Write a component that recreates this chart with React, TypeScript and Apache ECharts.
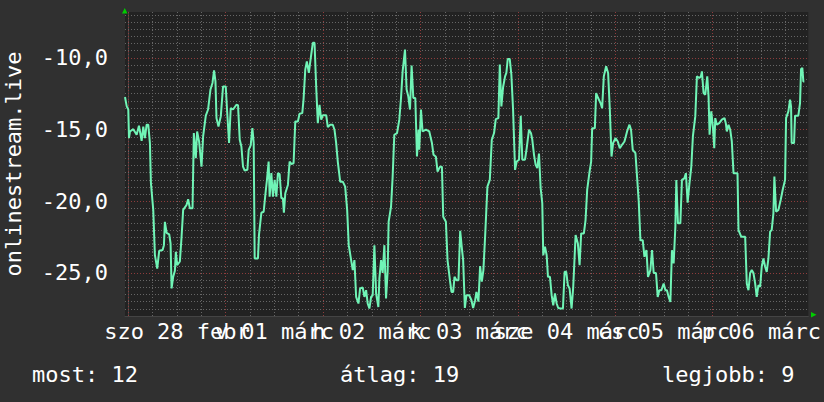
import React, { useEffect, useRef } from "react";
import * as echarts from "echarts";

// hours since szo 28 febr 00:00
const hours = [
  -0.81, -0.39, 0, 0.17, 0.42, 1.23, 2.06, 2.63, 3.29, 3.69, 4.1, 4.52, 4.92, 5.33, 5.58, 6.15, 6.56, 7.13, 7.62, 8.46,
  8.78, 9.02, 9.44, 10.08, 10.42, 10.67, 11.06, 11.48, 11.72, 12.04, 12.71, 13.13, 13.52, 14.35, 14.75, 15.17, 15.83, 16.15, 16.64, 16.96,
  17.45, 18.04, 18.44, 19.1, 19.66, 20.25, 20.75, 21.14, 21.48, 21.73, 22.22, 22.79, 23.35, 24.01, 24.33, 24.83, 25.24, 25.81, 26.64, 27.04,
  27.46, 27.87, 28.27, 28.69, 29.35, 29.67, 30.16, 30.58, 30.9, 31.14, 31.95, 32.2, 32.79, 33.36, 33.77, 34.17, 34.58, 34.83, 35.25, 35.64,
  36.06, 36.48, 36.87, 37.29, 37.71, 38.1, 38.34, 38.69, 39.33, 39.75, 40.16, 40.73, 41.15, 41.79, 42.2, 42.87, 43.19, 43.61, 44.0, 44.49,
  44.91, 45.47, 45.89, 46.31, 46.7, 47.12, 47.54, 47.93, 48.77, 49.16, 49.75, 50.39, 50.81, 51.22, 51.62, 52.21, 52.85, 53.44, 53.93, 54.32,
  54.91, 55.31, 55.72, 56.14, 56.71, 57.12, 57.76, 58.18, 58.6, 58.99, 59.41, 59.83, 60.22, 60.64, 61.06, 61.62, 61.87, 62.29, 62.68, 63.1,
  63.51, 63.91, 64.15, 64.74, 65.14, 65.55, 66.22, 66.78, 67.2, 67.6, 68.18, 68.58, 69.0, 69.41, 69.81, 70.23, 70.72, 71.13, 71.53, 71.7,
  72.12, 72.51, 73.35, 74.16, 74.82, 75.21, 75.8, 76.2, 76.79, 77.28, 77.6, 78.26, 78.66, 79.25, 79.64, 80.06, 80.38, 80.87, 81.36, 81.78,
  82.2, 82.51, 82.93, 83.33, 83.99, 84.56, 84.97, 85.47, 85.78, 86.28, 86.69, 87.11, 87.5, 87.92, 88.49, 89.08, 89.57, 90.13, 90.55, 91.19,
  91.54, 91.93, 92.35, 92.84, 93.16, 93.5, 93.99, 94.39, 94.81, 95.3, 95.71, 96.28, 96.7, 97.09, 97.75, 98.17, 98.74, 99.23, 99.55, 99.97,
  100.38, 100.78, 101.2, 101.61, 102.01, 102.25, 102.67, 103.09, 103.41, 103.9, 104.32, 104.71, 105.13, 105.55, 105.94, 106.53, 107.1, 107.51, 107.91, 108.32,
  108.74, 109.23, 109.63, 110.22, 110.78, 111.2, 111.59, 112.26, 112.67, 113.07, 113.66, 114.05, 114.3, 114.96, 115.28, 115.77, 116.36, 116.76, 117.17, 117.74,
  118.23, 118.65, 119.07, 119.46, 120.05, 120.61, 121.11, 121.67, 122.26, 122.9, 123.49, 123.88, 124.3, 124.96, 125.36, 125.78, 126.19, 126.76, 127.18, 127.67,
  128.06, 128.65, 129.05, 129.46, 130.03, 130.45, 130.86, 131.36, 131.92, 132.34, 132.73, 133.15, 133.57, 133.96, 134.38, 134.8, 135.04, 135.44, 136.03, 136.42,
  137.01, 137.4, 137.82, 138.24, 138.73, 139.12, 139.71, 140.11, 140.7, 141.09, 141.34, 141.75, 142.17, 142.66, 142.98, 143.23, 143.65, 144.04, 144.38, 144.63,
  145.02, 145.61, 146.25, 146.91, 147.23, 147.48, 147.9, 148.32, 148.71, 149.13, 149.69, 150.11, 150.36, 151.02, 151.59, 152.0, 152.4, 152.81, 153.23, 153.63,
  154.04, 154.46, 154.85, 155.27, 155.69, 156.08, 156.5, 156.92, 157.31, 157.73, 158.15, 158.54, 158.96, 159.2, 159.62, 160.19, 160.75, 161.24, 161.83, 162.08,
  162.65, 163.06, 163.31, 163.46, 164.05, 164.29, 165.1, 165.52, 165.77, 166.09, 166.33, 166.58,
];

const values = [
  -12.73, -13.38, -13.6, -15.6, -15.13, -14.97, -15.36, -14.73, -15.78, -14.8, -15.6, -14.66, -14.66, -15.94, -18.74, -20.6, -23.76, -24.69, -23.45, -23.4,
  -23.06, -21.43, -22.2, -22.3, -22.94, -26.08, -25.27, -24.85, -23.52, -24.45, -24.2, -22.47, -20.6, -20.26, -19.86, -20.49, -20.49, -15.24, -16.99, -15.13,
  -15.83, -17.58, -15.48, -14.03, -13.6, -12.2, -11.75, -10.87, -11.64, -14.2, -14.78, -14.08, -11.99, -11.99, -13.6, -15.94, -13.5, -13.6, -13.27, -13.3,
  -15.71, -16.18, -17.58, -17.86, -17.8, -16.41, -16.1, -14.9, -15.94, -23.99, -23.99, -22.36, -20.8, -20.73, -19.56, -18.51, -17.23, -19.68, -18.04, -19.68,
  -18.51, -19.68, -18.04, -18.1, -19.79, -19.79, -20.8, -19.44, -18.86, -17.23, -17.4, -17.35, -14.43, -14.43, -13.9, -13.85, -12.87, -10.82, -10.24, -11.05,
  -10.12, -8.95, -8.95, -12.1, -14.55, -13.27, -14.31, -14.0, -14.0, -14.83, -14.66, -14.66, -15.01, -15.94, -17.23, -18.63, -18.63, -18.98, -20.6, -23.06,
  -24.1, -24.8, -24.1, -26.67, -27.13, -26.08, -26.0, -26.67, -26.2, -27.13, -27.48, -26.67, -26.55, -23.06, -26.43, -27.37, -25.38, -24.1, -25.0, -23.06,
  -26.78, -24.85, -21.43, -20.38, -18.28, -15.36, -15.25, -14.31, -12.8, -10.94, -9.42, -12.2, -12.7, -13.6, -10.54, -12.8, -12.8, -16.88, -15.0, -16.41,
  -13.6, -15.13, -15.0, -15.13, -15.94, -16.76, -16.9, -17.93, -17.6, -17.6, -21.08, -21.43, -24.1, -25.5, -26.32, -26.32, -25.27, -25.5, -25.5, -22.06,
  -23.29, -24.1, -27.44, -26.55, -26.55, -26.9, -27.44, -26.9, -26.32, -27.0, -24.52, -25.6, -24.8, -22.47, -18.98, -18.51, -15.71, -15.24, -14.27, -14.2,
  -10.47, -13.38, -12.05, -11.29, -11.05, -10.07, -10.07, -11.17, -13.6, -17.81, -17.23, -17.1, -14.03, -17.1, -17.1, -16.3, -15.01, -15.25, -15.71, -16.76,
  -17.46, -17.69, -16.67, -19.09, -20.14, -23.76, -23.17, -23.76, -25.27, -25.27, -26.55, -27.25, -26.43, -27.13, -27.44, -27.48, -27.48, -24.92, -24.92, -25.85,
  -26.08, -27.48, -26.0, -22.36, -22.95, -24.45, -22.24, -22.24, -21.31, -19.21, -17.93, -17.23, -14.9, -14.9, -12.45, -12.8, -13.15, -13.5, -11.29, -10.59,
  -11.05, -13.6, -16.88, -15.94, -15.6, -15.83, -16.3, -16.06, -15.83, -15.13, -14.66, -15.01, -16.41, -16.64, -18.28, -20.03, -22.71, -22.71, -23.87, -23.4,
  -25.27, -24.8, -23.4, -25.0, -25.0, -26.67, -26.2, -26.2, -25.73, -26.2, -26.2, -26.67, -27.02, -23.41, -24.33, -21.78, -18.51, -21.54, -21.54, -18.51,
  -18.4, -18.04, -20.1, -18.86, -17.58, -15.48, -14.08, -11.29, -11.4, -11.29, -10.94, -12.45, -12.57, -11.29, -12.7, -15.36, -13.73, -14.8, -16.3, -14.2,
  -14.66, -14.55, -14.31, -14.2, -14.55, -15.13, -14.66, -15.01, -15.83, -18.04, -18.04, -18.04, -22.01, -22.47, -22.47, -22.47, -25.73, -26.2, -25.0, -24.8,
  -25.0, -25.73, -26.67, -25.85, -25.97, -24.57, -23.99, -24.57, -24.92, -23.99, -22.12, -22.0, -20.84, -18.28, -20.73, -20.6, -19.91, -19.21, -18.51, -14.2,
  -13.73, -12.92, -13.4, -15.94, -15.94, -14.03, -14.03, -13.15, -10.77, -10.7, -11.64, -11.64,
];

const dayLabelHours = [12, 36, 60, 84, 108, 132, 156];
const dayLabels = ["szo 28 febr", "v 01 márc", "h 02 márc", "k 03 márc", "sze 04 márc", "cs 05 márc", "p 06 márc"];
const yLabelValues = [-25, -20, -15, -10];
const summaryTexts = ["most: 12", "átlag: 19", "legjobb: 9"];
const axisTitle = "onlinestream.live";

const FONT = "DejaVu Sans Mono";
const GRID_LEFT = 125;
const GRID_TOP = 12;
const GRID_W = 685;
const GRID_H = 304;
const X_MIN = -0.81;
const X_MAX = 167.56;
const Y_MIN = -28;
const Y_MAX = -6.8;

export default function App() {
  const ref = useRef<HTMLDivElement>(null);
  useEffect(() => {
    if (!ref.current) return;
    const chart = echarts.init(ref.current, undefined, { renderer: "svg" });

    const minorStyle = { color: "#666666", width: 1, type: [1, 2] as any };
    const majorStyle = { color: "#8e3c3c", width: 1, type: [1, 2] as any };
    const gridLines: any[] = [];
    for (let k = -55; k <= -14; k++) {
      const v = k / 2;
      if (v % 5 === 0) continue;
      gridLines.push({ yAxis: v, lineStyle: minorStyle });
    }
    for (let h = 0; h <= 162; h += 6) {
      if (h % 24 === 0) continue;
      gridLines.push({ xAxis: h, lineStyle: minorStyle });
    }
    yLabelValues.forEach((v) => gridLines.push({ yAxis: v, lineStyle: majorStyle }));
    for (let h = 0; h <= 144; h += 24) gridLines.push({ xAxis: h, lineStyle: majorStyle });

    const summaryX = [32, 340, 662];

    // two label axes, alternating days, so that neighbouring (overlapping) labels are not auto-hidden
    const makeXAxis = (parity: number, showLine: boolean) => {
      const vals = dayLabelHours.filter((_, i) => i % 2 === parity);
      return {
        type: "value",
        position: "bottom",
        offset: 0,
        min: X_MIN,
        max: X_MAX,
        axisLine: { show: showLine, lineStyle: { color: "#444444", width: 1 } },
        axisTick: { show: false },
        splitLine: { show: false },
        axisLabel: {
          customValues: vals,
          showMinLabel: true,
          showMaxLabel: true,
          hideOverlap: false,
          color: "#ffffff",
          fontFamily: FONT,
          fontSize: 22,
          margin: 4,
          formatter: (v: number) => {
            const i = dayLabelHours.indexOf(Math.round(v));
            return i >= 0 ? dayLabels[i] : "";
          },
        },
      };
    };

    chart.setOption({
      animation: false,
      backgroundColor: "#303030",
      grid: {
        left: GRID_LEFT,
        top: GRID_TOP,
        width: GRID_W,
        height: GRID_H,
        show: true,
        backgroundColor: "#222222",
        borderWidth: 0,
      },
      xAxis: [makeXAxis(0, true), makeXAxis(1, false)],
      yAxis: {
        type: "value",
        min: Y_MIN,
        max: Y_MAX,
        interval: 0.5,
        axisLine: { show: true, lineStyle: { color: "#444444", width: 1 } },
        axisTick: { show: false },
        splitLine: { show: false },
        axisLabel: {
          color: "#ffffff",
          fontFamily: FONT,
          fontSize: 22,
          margin: 17,
          formatter: (v: number) =>
            yLabelValues.indexOf(v) >= 0 ? v.toFixed(1).replace(".", ",") : "",
        },
      },
      graphic: [
        {
          type: "text",
          x: 13,
          y: 164,
          rotation: Math.PI / 2,
          style: {
            text: axisTitle,
            fill: "#ffffff",
            font: `22px "${FONT}"`,
            align: "center",
            verticalAlign: "middle",
          },
        },
        ...summaryTexts.map((t, i) => ({
          type: "text",
          x: summaryX[i],
          y: 374,
          style: {
            text: t,
            fill: "#ffffff",
            font: `22px "${FONT}"`,
            align: "left",
            verticalAlign: "middle",
          },
        })),
        {
          type: "polygon",
          shape: { points: [[122, 13.5], [127.5, 13.5], [124.75, 8]] },
          style: { fill: "#00cc00" },
        },
        {
          type: "polygon",
          shape: { points: [[811, 312], [811, 317.5], [816.5, 314.75]] },
          style: { fill: "#00cc00" },
        },
      ],
      series: [
        {
          type: "line",
          data: [],
          z: 1,
          markLine: {
            z: 1,
            silent: true,
            symbol: ["none", "none"],
            label: { show: false },
            data: gridLines,
          },
        },
        {
          name: axisTitle,
          type: "line",
          z: 10,
          showSymbol: false,
          data: hours.map((h, i) => [h, values[i]]),
          lineStyle: { color: "#70f4b6", width: 2 },
          itemStyle: { color: "#70f4b6" },
        },
      ],
    });
    return () => chart.dispose();
  }, []);
  return <div ref={ref} style={{ width: 824, height: 402, position: "absolute", left: 0, top: 0 }} />;
}
